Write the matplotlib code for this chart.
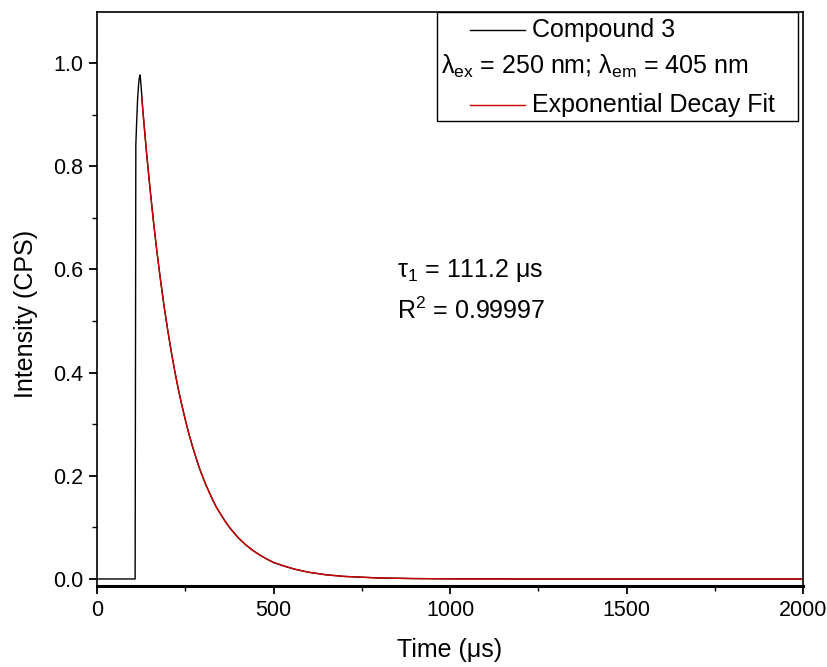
import matplotlib
matplotlib.use("Agg")
import matplotlib.pyplot as plt
from matplotlib.patches import Rectangle
from matplotlib.lines import Line2D

plt.rcParams['font.family'] = ['Liberation Sans', 'DejaVu Sans']
plt.rcParams['mathtext.fontset'] = 'custom'
plt.rcParams['mathtext.rm'] = 'Liberation Sans'
plt.rcParams['mathtext.it'] = 'Liberation Sans'

# ---- data ----
data_time = [0, 50, 100, 108, 109, 110, 112, 115, 118, 120, 122, 125, 130, 140, 150, 160, 170, 180,
             190, 200, 210, 220, 230, 240, 250, 260, 270, 280, 290, 300, 310, 320, 330,
             340, 350, 360, 370, 380, 390, 400, 420, 440, 460, 480, 500, 530, 560,
             600, 650, 700, 800, 900, 1000, 1200, 1500, 2000]
data_intensity = [0, 0, 0, 0, 0.40, 0.84, 0.88, 0.93, 0.96, 0.972, 0.977, 0.955, 0.907, 0.829, 0.758,
                  0.693, 0.633, 0.579, 0.529, 0.484, 0.442, 0.404, 0.369, 0.338, 0.309,
                  0.282, 0.258, 0.236, 0.215, 0.197, 0.180, 0.165, 0.150, 0.137, 0.126,
                  0.115, 0.105, 0.096, 0.088, 0.080, 0.067, 0.056, 0.047, 0.039, 0.032,
                  0.025, 0.019, 0.013, 0.008, 0.005, 0.0019, 0.0008, 0.0003, 0.0, 0.0, 0.0]

fit_time = [127, 130, 140, 150, 160, 170, 180, 190, 200, 210, 220, 230, 240, 250, 260, 270,
            280, 290, 300, 310, 320, 330, 340, 350, 360, 370, 380, 390, 400, 420, 440,
            460, 480, 500, 530, 560, 600, 650, 700, 800, 900, 1000, 1200, 1500, 2000]
fit_intensity = [0.932, 0.907, 0.829, 0.758, 0.693, 0.633, 0.579, 0.529, 0.484, 0.442, 0.404,
                 0.369, 0.338, 0.309, 0.282, 0.258, 0.236, 0.215, 0.197, 0.180, 0.165,
                 0.150, 0.137, 0.126, 0.115, 0.105, 0.096, 0.088, 0.080, 0.067, 0.056,
                 0.047, 0.039, 0.032, 0.025, 0.019, 0.013, 0.008, 0.005, 0.0019, 0.0008,
                 0.0003, 0.0, 0.0, 0.0]

x_ticks = [0, 500, 1000, 1500, 2000]
y_ticks = [0.0, 0.2, 0.4, 0.6, 0.8, 1.0]

fig = plt.figure(figsize=(8.27, 6.67), dpi=100)
L, R, T, B = 97, 803, 12, 586
ax = fig.add_axes([L/827, 1-B/667, (R-L)/827, (B-T)/667])

ax.plot(data_time, data_intensity, color='black', lw=1.0)
ax.plot(fit_time, fit_intensity, color='#d00000', lw=1.0)

ax.set_xlim(0, 2000)
ax.set_ylim(-0.0136, 1.099)
ax.set_xticks(x_ticks)
ax.set_xticklabels([str(v) for v in x_ticks])
ax.set_yticks(y_ticks)
ax.set_yticklabels([f"{v:.1f}" for v in y_ticks])
ax.set_xticks([250, 750, 1250, 1750], minor=True)
ax.set_yticks([0.1, 0.3, 0.5, 0.7, 0.9], minor=True)
ax.tick_params(which='major', direction='out', length=6, width=1.3, labelsize=15.5, pad=4)
ax.tick_params(which='minor', direction='out', length=3.5, width=1.0)
ax.tick_params(top=False, right=False)
for s in ['left', 'top', 'right']:
    ax.spines[s].set_linewidth(1.2)
ax.spines['bottom'].set_linewidth(2.2)

ax.set_xlabel('Time (μs)', fontsize=18, labelpad=12)
ax.set_ylabel('Intensity (CPS)', fontsize=18)
ax.yaxis.set_label_coords((38 - L) / (R - L), (B - 314) / (B - T))

def ax_x(px):
    return (px - L) / (R - L)

def ax_y(py):
    return (B - py) / (B - T)

# legend box drawn manually
ax.add_patch(Rectangle((ax_x(437), ax_y(121)), ax_x(798) - ax_x(437), 1 - ax_y(121),
                       transform=ax.transAxes, facecolor='white', edgecolor='black',
                       lw=1.0, zorder=5))
ax.add_line(Line2D([ax_x(470), ax_x(525)], [ax_y(30), ax_y(30)], transform=ax.transAxes,
                   color='black', lw=1.0, zorder=6))
ax.text(ax_x(532), ax_y(30), 'Compound 3', transform=ax.transAxes, fontsize=18,
        va='center', ha='left', zorder=6)
ax.text(ax_x(441), ax_y(66), r'$\mathregular{\lambda_{ex}}$ = 250 nm; $\mathregular{\lambda_{em}}$ = 405 nm',
        transform=ax.transAxes, fontsize=18, va='center', ha='left', zorder=6)
ax.add_line(Line2D([ax_x(470), ax_x(525)], [ax_y(105), ax_y(105)], transform=ax.transAxes,
                   color='#d00000', lw=1.0, zorder=6))
ax.text(ax_x(532), ax_y(105), 'Exponential Decay Fit', transform=ax.transAxes, fontsize=18,
        va='center', ha='left', zorder=6)

ax.text(ax_x(397), ax_y(270), r'$\mathregular{\tau_1}$ = 111.2 μs', transform=ax.transAxes,
        fontsize=18, va='center', ha='left')
ax.text(ax_x(397), ax_y(311), r'R$\mathregular{^2}$ = 0.99997', transform=ax.transAxes,
        fontsize=18, va='center', ha='left')

fig.savefig('out.png', dpi=100)
